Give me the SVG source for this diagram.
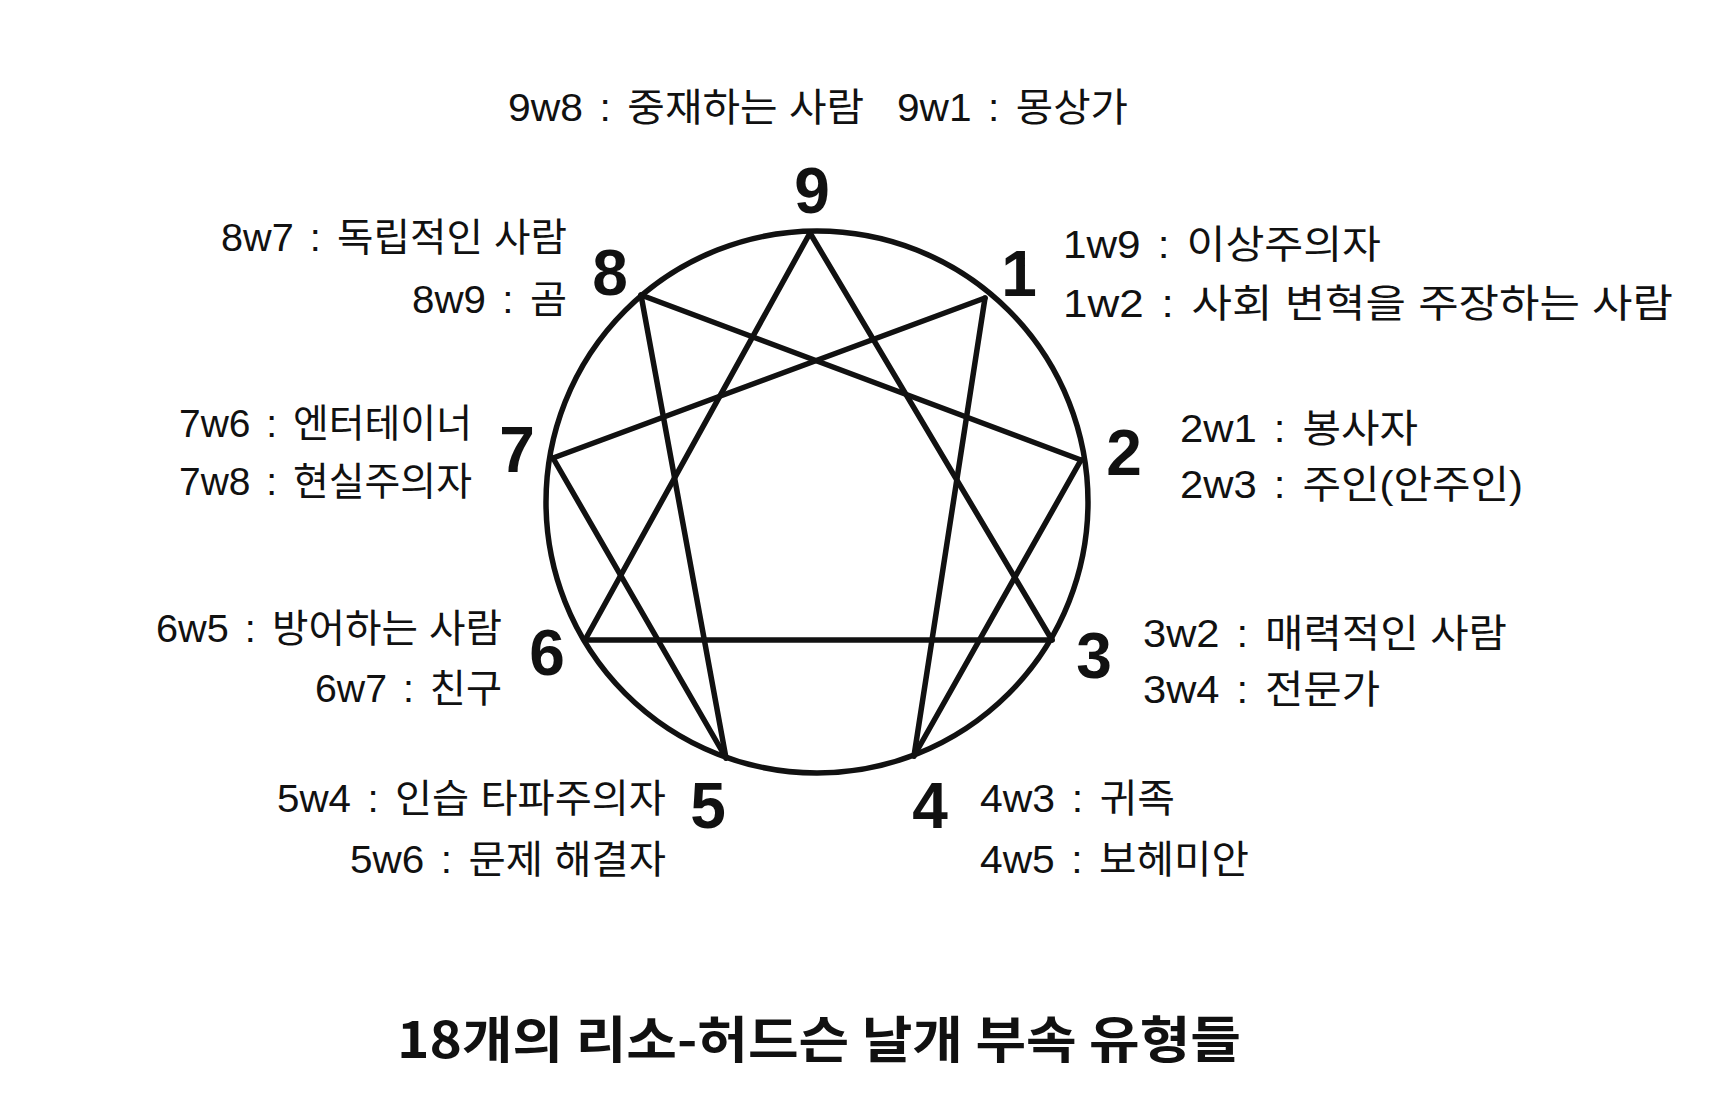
<svg xmlns="http://www.w3.org/2000/svg" width="1717" height="1095" viewBox="0 0 1717 1095">
<style>
.lbl{font-family:"Liberation Sans","Noto Sans CJK KR",sans-serif;font-size:39px;fill:#111;}
.num{font-family:"Liberation Sans","Noto Sans CJK KR",sans-serif;font-size:64px;font-weight:bold;fill:#111;text-anchor:middle;}
.title{font-family:"Noto Sans CJK KR","Liberation Sans",sans-serif;font-size:50px;font-weight:bold;fill:#111;}
.ln{stroke:#111;stroke-width:5.5;fill:none;stroke-linecap:round;stroke-linejoin:round;}
</style>
<rect width="1717" height="1095" fill="#ffffff"/>
<g id="circle">
<circle class="ln" cx="817" cy="502" r="271"/>
</g>
<g id="connectors">
<line class="ln" x1="810" y1="233" x2="1052" y2="640"/>
<line class="ln" x1="1052" y1="640" x2="585" y2="640"/>
<line class="ln" x1="585" y1="640" x2="810" y2="233"/>
<line class="ln" x1="985" y1="298" x2="914" y2="756"/>
<line class="ln" x1="914" y1="756" x2="1081" y2="460"/>
<line class="ln" x1="1081" y1="460" x2="641" y2="295"/>
<line class="ln" x1="641" y1="295" x2="726" y2="758"/>
<line class="ln" x1="726" y1="758" x2="553" y2="458"/>
<line class="ln" x1="553" y1="458" x2="985" y2="298"/>
</g>
<g id="node-9">
<text class="num" x="812" y="213">9</text>
<text class="lbl" x="508" y="121" textLength="356" lengthAdjust="spacingAndGlyphs">9w8 <tspan dx="5">:</tspan><tspan dx="5"> 중재하는 사람</tspan></text>
<text class="lbl" x="897" y="121" textLength="231" lengthAdjust="spacingAndGlyphs">9w1 <tspan dx="5">:</tspan><tspan dx="5"> 몽상가</tspan></text>
</g>
<g id="node-8">
<text class="num" x="610" y="295">8</text>
<text class="lbl" x="221" y="251" textLength="346" lengthAdjust="spacingAndGlyphs">8w7 <tspan dx="5">:</tspan><tspan dx="5"> 독립적인 사람</tspan></text>
<text class="lbl" x="412" y="313" textLength="155" lengthAdjust="spacingAndGlyphs">8w9 <tspan dx="5">:</tspan><tspan dx="5"> 곰</tspan></text>
</g>
<g id="node-1">
<text class="num" x="1019" y="296">1</text>
<text class="lbl" x="1063" y="258" textLength="318" lengthAdjust="spacingAndGlyphs">1w9 <tspan dx="5">:</tspan><tspan dx="5"> 이상주의자</tspan></text>
<text class="lbl" x="1063" y="317" textLength="610" lengthAdjust="spacingAndGlyphs">1w2 <tspan dx="5">:</tspan><tspan dx="5"> 사회 변혁을 주장하는 사람</tspan></text>
</g>
<g id="node-7">
<text class="num" x="517" y="472">7</text>
<text class="lbl" x="179" y="437" textLength="293" lengthAdjust="spacingAndGlyphs">7w6 <tspan dx="5">:</tspan><tspan dx="5"> 엔터테이너</tspan></text>
<text class="lbl" x="179" y="495" textLength="293" lengthAdjust="spacingAndGlyphs">7w8 <tspan dx="5">:</tspan><tspan dx="5"> 현실주의자</tspan></text>
</g>
<g id="node-2">
<text class="num" x="1124" y="475">2</text>
<text class="lbl" x="1180" y="442" textLength="238" lengthAdjust="spacingAndGlyphs">2w1 <tspan dx="5">:</tspan><tspan dx="5"> 봉사자</tspan></text>
<text class="lbl" x="1180" y="498" textLength="343" lengthAdjust="spacingAndGlyphs">2w3 <tspan dx="5">:</tspan><tspan dx="5"> 주인(안주인)</tspan></text>
</g>
<g id="node-6">
<text class="num" x="547" y="675">6</text>
<text class="lbl" x="156" y="642" textLength="346" lengthAdjust="spacingAndGlyphs">6w5 <tspan dx="5">:</tspan><tspan dx="5"> 방어하는 사람</tspan></text>
<text class="lbl" x="315" y="702" textLength="187" lengthAdjust="spacingAndGlyphs">6w7 <tspan dx="5">:</tspan><tspan dx="5"> 친구</tspan></text>
</g>
<g id="node-3">
<text class="num" x="1094" y="678">3</text>
<text class="lbl" x="1143" y="647" textLength="364" lengthAdjust="spacingAndGlyphs">3w2 <tspan dx="5">:</tspan><tspan dx="5"> 매력적인 사람</tspan></text>
<text class="lbl" x="1143" y="703" textLength="237" lengthAdjust="spacingAndGlyphs">3w4 <tspan dx="5">:</tspan><tspan dx="5"> 전문가</tspan></text>
</g>
<g id="node-5">
<text class="num" x="708" y="828">5</text>
<text class="lbl" x="277" y="812" textLength="389" lengthAdjust="spacingAndGlyphs">5w4 <tspan dx="5">:</tspan><tspan dx="5"> 인습 타파주의자</tspan></text>
<text class="lbl" x="350" y="873" textLength="316" lengthAdjust="spacingAndGlyphs">5w6 <tspan dx="5">:</tspan><tspan dx="5"> 문제 해결자</tspan></text>
</g>
<g id="node-4">
<text class="num" x="930" y="828">4</text>
<text class="lbl" x="980" y="812" textLength="195" lengthAdjust="spacingAndGlyphs">4w3 <tspan dx="5">:</tspan><tspan dx="5"> 귀족</tspan></text>
<text class="lbl" x="980" y="873" textLength="269" lengthAdjust="spacingAndGlyphs">4w5 <tspan dx="5">:</tspan><tspan dx="5"> 보헤미안</tspan></text>
</g>
<g id="title">
<text class="title" x="397" y="1058" textLength="844" lengthAdjust="spacingAndGlyphs">18개의 리소-허드슨 날개 부속 유형들</text>
</g>
</svg>
